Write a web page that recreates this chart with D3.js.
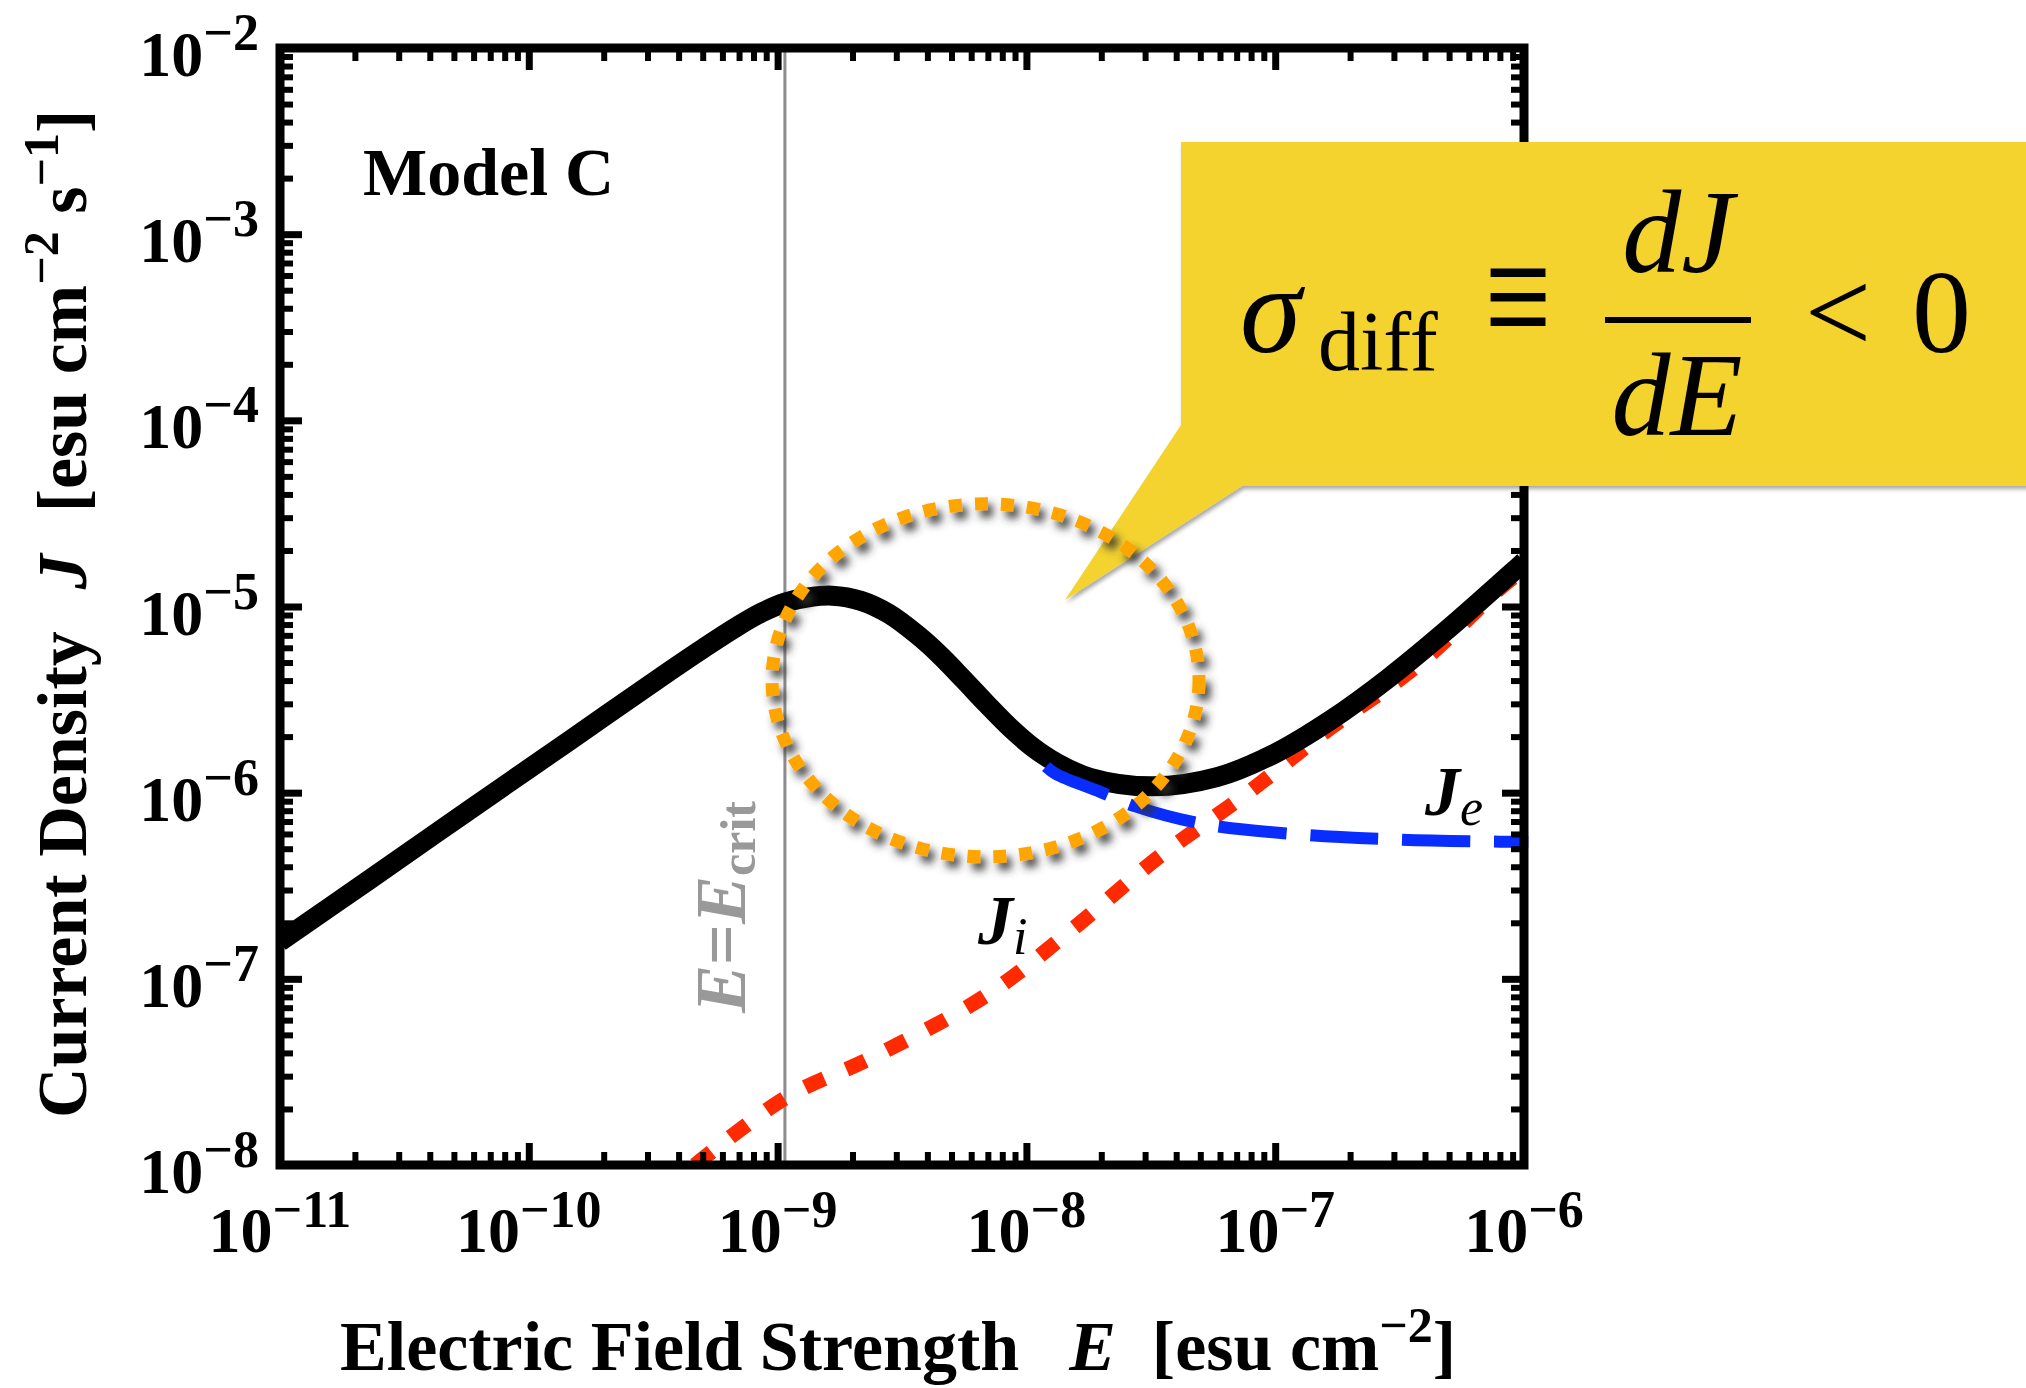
<!DOCTYPE html>
<html>
<head>
<meta charset="utf-8">
<script src="https://cdn.jsdelivr.net/npm/d3@7"></script>
<style>
body { margin: 0; background: #fff; }
text { font-family: "Liberation Serif", "Times New Roman", serif; }
</style>
</head>
<body>
<div id="chart"></div>
<script>
// tick decades
var xTickExps = [-11, -10, -9, -8, -7, -6];
var yTickExps = [-8, -7, -6, -5, -4, -3, -2];

// total current J (black)
var totalE = [1e-11, 2.301e-11, 5.808e-11, 1.466e-10, 3.698e-10, 5.012e-10, 6.871e-10, 8.710e-10, 1.081e-9,
              1.349e-9, 1.656e-9, 2.163e-9, 2.805e-9, 3.664e-9, 4.539e-9, 5.610e-9, 6.950e-9, 8.590e-9,
              1.064e-8, 1.315e-8, 1.803e-8, 3.228e-8, 5.834e-8, 9.886e-8, 1.675e-7, 2.864e-7, 4.864e-7,
              9.204e-7, 1e-6];
var totalJ = [1.585e-7, 3.428e-7, 8.128e-7, 1.914e-6, 4.519e-6, 5.943e-6, 7.798e-6, 9.333e-6, 1.052e-5,
              1.122e-5, 1.143e-5, 1.072e-5, 9.120e-6, 6.998e-6, 5.408e-6, 4.036e-6, 2.979e-6, 2.239e-6,
              1.750e-6, 1.452e-6, 1.202e-6, 1.081e-6, 1.211e-6, 1.614e-6, 2.460e-6, 4.140e-6, 7.413e-6,
              1.574e-5, 1.738e-5];

// ion current J_i (red dotted)
var ionE = [4.66e-10, 1.08e-9, 2.39e-9, 6.95e-9, 1.54e-8, 3.41e-8, 7.57e-8, 1.67e-7, 3.75e-7, 8.32e-7, 1e-6];
var ionJ = [1e-8, 2.30e-8, 3.77e-8, 8.20e-8, 1.86e-7, 4.52e-7, 9.73e-7, 2.23e-6, 4.85e-6, 1.31e-5, 1.58e-5];

// electron current J_e (blue dashed)
var elecE = [1.20e-8, 1.315e-8, 1.98e-8, 2.76e-8, 5.22e-8, 1.26e-7, 2.92e-7, 7.03e-7, 1.04e-6];
var elecJ = [1.38e-6, 1.259e-6, 1.01e-6, 8.41e-7, 6.76e-7, 5.96e-7, 5.62e-7, 5.47e-7, 5.44e-7];

var eCrit = 1.07e-9;

// extent of the highlighted region (dotted ellipse)
var ringE = [9.5e-10, 4.94e-8];
var ringJ = [4.52e-7, 3.56e-5];

var W = 2026, H = 1388;
var svg = d3.select("#chart").append("svg")
    .attr("width", W)
    .attr("height", H);

var plot = {left: 280, right: 1524, top: 48, bottom: 1165};

var x = d3.scaleLog().domain([1e-11, 1e-6]).range([plot.left, plot.right]);
var y = d3.scaleLog().domain([1e-8, 1e-2]).range([plot.bottom, plot.top]);

var defs = svg.append("defs");
defs.append("clipPath").attr("id", "clip")
  .append("rect")
    .attr("x", plot.left).attr("y", plot.top)
    .attr("width", plot.right - plot.left).attr("height", plot.bottom - plot.top);

var ringShadow = defs.append("filter").attr("id", "ringShadow")
    .attr("x", "-20%").attr("y", "-20%").attr("width", "140%").attr("height", "140%");
ringShadow.append("feDropShadow")
    .attr("dx", 5).attr("dy", 7).attr("stdDeviation", 4.5)
    .attr("flood-color", "#333").attr("flood-opacity", 0.9);

var boxShadow = defs.append("filter").attr("id", "boxShadow")
    .attr("x", "-10%").attr("y", "-10%").attr("width", "130%").attr("height", "130%");
boxShadow.append("feDropShadow")
    .attr("dx", 2).attr("dy", 3).attr("stdDeviation", 2)
    .attr("flood-color", "#000").attr("flood-opacity", 0.35);

function pow10(e) { return Math.pow(10, e); }
function minorTicks(exps) {
  var t = [];
  exps.slice(0, -1).forEach(function(e) {
    for (var k = 2; k < 10; k++) t.push(k * pow10(e));
  });
  return t;
}

var xMajor = xTickExps.map(pow10), xMinor = minorTicks(xTickExps);
var yMajor = yTickExps.map(pow10), yMinor = minorTicks(yTickExps);

// E = E_crit line
svg.append("line")
    .attr("x1", x(eCrit)).attr("x2", x(eCrit))
    .attr("y1", plot.top).attr("y2", plot.bottom)
    .attr("stroke", "#8c8c8c")
    .attr("stroke-width", 3);

svg.append("text")
    .attr("transform", "translate(" + (x(eCrit) - 40) + "," + 1013 + ") rotate(-90)")
    .attr("fill", "#999")
    .attr("font-size", 72)
    .attr("font-weight", "bold")
    .call(function(t) {
      t.append("tspan").attr("font-style", "italic").text("E");
      t.append("tspan").text("=");
      t.append("tspan").attr("font-style", "italic").text("E");
      t.append("tspan").attr("font-size", 50).attr("dy", 10).text("crit");
    });

// curves
var line = d3.line()
    .x(function(d) { return x(d[0]); })
    .y(function(d) { return y(d[1]); })
    .curve(d3.curveCatmullRom.alpha(0.5));

var curves = svg.append("g").attr("clip-path", "url(#clip)");

curves.append("path")
    .attr("d", line(d3.zip(ionE, ionJ)))
    .attr("fill", "none")
    .attr("stroke", "#ff2a00")
    .attr("stroke-width", 15)
    .attr("stroke-dasharray", "21 24");

svg.append("path")
    .attr("d", line(d3.zip(elecE, elecJ)))
    .attr("fill", "none")
    .attr("stroke", "#0a2dff")
    .attr("stroke-width", 12)
    .attr("stroke-dasharray", "68 24");

curves.append("path")
    .attr("d", line(d3.zip(totalE, totalJ)))
    .attr("fill", "none")
    .attr("stroke", "#000")
    .attr("stroke-width", 20)
    .attr("stroke-linejoin", "round");

// frame and ticks
function ticks(axisFn, scale, values, size, width, tx, ty) {
  svg.append("g")
      .attr("transform", "translate(" + tx + "," + ty + ")")
      .call(axisFn(scale).tickValues(values).tickSize(-size).tickFormat(""))
      .call(function(g) {
        g.select(".domain").remove();
        g.selectAll("line").attr("stroke", "#000").attr("stroke-width", width);
      });
}

ticks(d3.axisBottom, x, xMinor, 13, 6, 0, plot.bottom);
ticks(d3.axisBottom, x, xMajor, 22, 7, 0, plot.bottom);
ticks(d3.axisTop, x, xMinor, 13, 6, 0, plot.top);
ticks(d3.axisTop, x, xMajor, 22, 7, 0, plot.top);
ticks(d3.axisLeft, y, yMinor, 13, 6, plot.left, 0);
ticks(d3.axisLeft, y, yMajor, 22, 7, plot.left, 0);
ticks(d3.axisRight, y, yMinor, 13, 6, plot.right, 0);
ticks(d3.axisRight, y, yMajor, 22, 7, plot.right, 0);

svg.append("rect")
    .attr("x", plot.left).attr("y", plot.top)
    .attr("width", plot.right - plot.left).attr("height", plot.bottom - plot.top)
    .attr("fill", "none")
    .attr("stroke", "#000")
    .attr("stroke-width", 9);

// tick labels
svg.append("g").selectAll("text")
    .data(xTickExps)
  .join("text")
    .attr("x", function(d) { return x(pow10(d)); })
    .attr("y", 1252)
    .attr("text-anchor", "middle")
    .attr("font-size", 64)
    .attr("font-weight", "bold")
    .each(function(d) {
      var t = d3.select(this);
      t.append("tspan").text("10");
      t.append("tspan").attr("dy", -25).attr("font-size", 52).text("\u2212" + Math.abs(d));
    });

svg.append("g").selectAll("text")
    .data(yTickExps)
  .join("text")
    .attr("x", 259)
    .attr("y", function(d) { return y(pow10(d)) + 28; })
    .attr("text-anchor", "end")
    .attr("font-size", 64)
    .attr("font-weight", "bold")
    .each(function(d) {
      var t = d3.select(this);
      t.append("tspan").text("10");
      t.append("tspan").attr("dy", -26).attr("font-size", 52).text("\u2212" + Math.abs(d));
    });

// axis titles
svg.append("text")
    .attr("x", 340)
    .attr("y", 1370)
    .attr("font-size", 70)
    .attr("font-weight", "bold")
    .call(function(t) {
      t.append("tspan").text("Electric Field Strength");
      t.append("tspan").attr("dx", 50).attr("font-style", "italic").text("E");
      t.append("tspan").attr("dx", 36).text("[esu cm");
      t.append("tspan").attr("dy", -28).attr("font-size", 50).text("\u22122");
      t.append("tspan").attr("dy", 28).text("]");
    });

svg.append("text")
    .attr("transform", "translate(86,1118) rotate(-90)")
    .attr("font-size", 70)
    .attr("font-weight", "bold")
    .call(function(t) {
      t.append("tspan").text("Current Density");
      t.append("tspan").attr("dx", 42).attr("font-style", "italic").text("J");
      t.append("tspan").attr("dx", 42).text("[esu cm");
      t.append("tspan").attr("dy", -28).attr("font-size", 50).text("\u22122");
      t.append("tspan").attr("dy", 28).text(" s");
      t.append("tspan").attr("dy", -28).attr("font-size", 50).text("\u22121");
      t.append("tspan").attr("dy", 28).text("]");
    });

svg.append("text")
    .attr("x", 363).attr("y", 195)
    .attr("font-size", 68)
    .attr("font-weight", "bold")
    .text("Model C");

// curve labels
svg.append("text")
    .attr("x", 1425).attr("y", 815)
    .attr("font-size", 70)
    .call(function(t) {
      t.append("tspan").attr("font-weight", "bold").attr("font-style", "italic").text("J");
      t.append("tspan").attr("dy", 10).attr("font-size", 52).attr("font-style", "italic").text("e");
    });

svg.append("text")
    .attr("x", 978).attr("y", 944)
    .attr("font-size", 70)
    .call(function(t) {
      t.append("tspan").attr("font-weight", "bold").attr("font-style", "italic").text("J");
      t.append("tspan").attr("dy", 10).attr("font-size", 52).attr("font-style", "italic").text("i");
    });

// callout
var callout = svg.append("g");
callout.append("path")
    .attr("d", "M1181,142 L2040,142 L2040,486 L1242,486 L1065,600 L1181,425 Z")
    .attr("fill", "#f4d32e")
    .attr("filter", "url(#boxShadow)");

var f = callout.append("g").attr("fill", "#000");
f.append("text").attr("x", 1240).attr("y", 352).attr("font-size", 124)
    .attr("font-style", "italic").text("\u03c3");
f.append("text").attr("x", 1318).attr("y", 370).attr("font-size", 84).text("diff");
f.append("text")
    .attr("transform", "translate(1518,322) scale(1,1.45)")
    .attr("y", 22)
    .attr("font-size", 118)
    .attr("text-anchor", "middle").text("\u2261");
f.append("text").attr("x", 1678).attr("y", 272).attr("font-size", 118)
    .attr("font-style", "italic").attr("text-anchor", "middle").text("dJ");
f.append("line").attr("x1", 1605).attr("x2", 1751).attr("y1", 320).attr("y2", 320)
    .attr("stroke", "#000").attr("stroke-width", 6);
f.append("text").attr("x", 1677).attr("y", 435).attr("font-size", 118)
    .attr("font-style", "italic").attr("text-anchor", "middle").text("dE");
f.append("text").attr("x", 1838).attr("y", 352).attr("font-size", 118)
    .attr("text-anchor", "middle").text("<");
f.append("text").attr("x", 1912).attr("y", 352).attr("font-size", 118).text("0");

// dotted ring around the negative-slope region
var rx0 = x(ringE[0]), rx1 = x(ringE[1]), ry0 = y(ringJ[1]), ry1 = y(ringJ[0]);
svg.append("ellipse")
    .attr("cx", (rx0 + rx1) / 2)
    .attr("cy", (ry0 + ry1) / 2)
    .attr("rx", (rx1 - rx0) / 2)
    .attr("ry", (ry1 - ry0) / 2)
    .attr("fill", "none")
    .attr("stroke", "#ffa500")
    .attr("stroke-width", 13)
    .attr("stroke-dasharray", "13 13")
    .attr("filter", "url(#ringShadow)");
</script>
</body>
</html>
